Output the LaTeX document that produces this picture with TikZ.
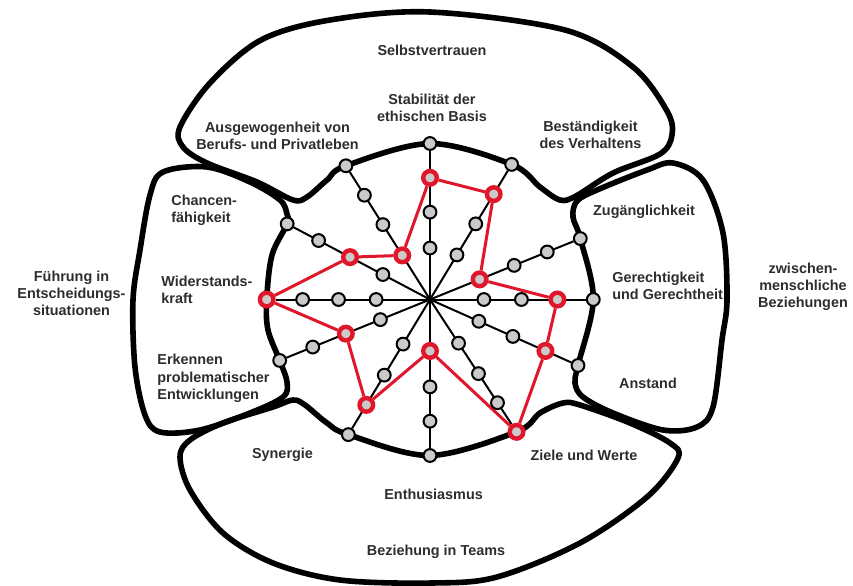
\documentclass[tikz,border=0pt]{standalone}
\usepackage{fontspec}
\setmainfont{Liberation Sans}
\usetikzlibrary{calc,backgrounds}

\definecolor{chartred}{RGB}{224,22,42}
\definecolor{dotgray}{RGB}{202,202,202}
\definecolor{labelgray}{RGB}{45,45,45}

\begin{document}
\begin{tikzpicture}[x=0.5pt,y=-0.5pt,            % pixel grid, y down
                    font=\fontsize{7.2}{8.6}\selectfont\bfseries,
                    region/.style={line width=2.8pt,line join=round},
                    spoke/.style={line width=1pt},
                    dot/.style={circle,draw,line width=1pt,fill=dotgray,minimum size=6.4pt,inner sep=0pt},
                    hit/.style={circle,draw=chartred,line width=2.2pt,fill=dotgray,minimum size=6.8pt,inner sep=0pt},
                    profile/.style={chartred,line width=1.5pt,line join=round},
                    lbl/.style={text=labelgray,inner sep=0pt,align=center},
                    lbll/.style={text=labelgray,inner sep=0pt,align=left,anchor=west}
                    ]
\useasboundingbox (0,0) rectangle (853,585);

\coordinate (c) at (430,299.5);

% dots on the twelve axes (angle / red level)
\foreach \a/\r [count=\i] in {90/3,60/3,23/1,0/3,-25/3,-58/4,-90/1,-120/3,-157/2,180/4,151/2,121/1}{
  \foreach \f [count=\k] in {0.33,0.56,0.78,1}{
    \ifnum\k=\r\def\sty{hit}\else\def\sty{dot}\fi
    \node[\sty] (n\i-\k) at ($(c)+({163.3*\f*cos(\a)},{-156*\f*sin(\a)})$) {};
  }
}

\begin{scope}[on background layer]
% Selbstvertrauen
\draw[region] plot[smooth cycle,tension=0.55] coordinates {(n12-4.center) (n1-4.center) (n2-4.center)
   (540,187) (560,200) (576,196) (613,173) (660,154) (672,135) (667,111) (633,67) (565,30)
   (430,12) (330,20) (261,40) (210,83) (180,127) (183,147) (207,163) (257,182)
   (293,200) (307,197) (327,180)};

% Fuehrung
\draw[region] plot[smooth cycle,tension=0.55] coordinates {(163,172) (207,167) (250,182) (280,200)
   (287,214) (n11-4.center) (272,255) (n10-4.center) (268,330) (n9-4.center) (287,382) (283,397)
   (250,413) (200,430) (160,432) (145,415) (135,367) (133,300) (140,250) (150,195)};

% zwischenmenschliche Beziehungen
\draw[region] plot[smooth cycle,tension=0.55] coordinates {(577,201) (597,190) (647,170) (673,163)
   (703,180) (723,233) (727,300) (722,340) (713,407) (697,427) (663,430) (613,413) (583,397)
   (575,383) (n5-4.center) (n4-4.center) (n3-4.center) (573,217)};

% Beziehung in Teams
\draw[region] plot[smooth cycle,tension=0.55] coordinates {(n8-4.center) (n7-4.center) (n6-4.center)
   (540,413) (563,403) (580,405) (630,423) (670,443) (678,458) (647,497) (580,543) (497,577)
   (432,583) (340,580) (273,563) (223,533) (190,490) (180,457) (190,440) (223,423) (273,407)
   (293,400) (305,405) (327,423)};

% axes
\foreach \i in {1,...,12} \draw[spoke] (c) -- (n\i-4);

% profile
\draw[profile] (n1-3) -- (n2-3) -- (n3-1) -- (n4-3) -- (n5-3) -- (n6-4) -- (n7-1)
   -- (n8-3) -- (n9-2) -- (n10-4) -- (n11-2) -- (n12-1) -- (n1-3);
\end{scope}

% labels
\node[lbl] (selbst) at (432,50) {Selbstvertrauen};
\node[lbl] (stab) at (432,107.5) {Stabilität der\\ethischen Basis};
\node[lbl] (ausg) at (277.5,136) {Ausgewogenheit von\\Berufs- und Privatleben};
\node[lbl] (best) at (590.5,134.5) {Beständigkeit\\des Verhaltens};

\node[lbll] (chanc) at (171,210) {Chancen-\\fähigkeit};
\node[lbll] (wider) at (161,289.5) {Widerstands-\\kraft};
\node[lbll] (erk) at (157,378.5) {Erkennen\\problematischer\\Entwicklungen};
\node[lbl] (fuehr) at (71.5,293.3) {Führung in\\Entscheidungs-\\situationen};

\node[lbl] (zug) at (644,211.7) {Zugänglichkeit};
\node[lbll] (ger) at (612,285.5) {Gerechtigkeit\\und Gerechtheit};
\node[lbl] (anst) at (648,383.3) {Anstand};
\node[lbl] (zwisch) at (803,286.7) {zwischen-\\menschliche\\Beziehungen};

\node[lbl] (syn) at (282.5,455) {Synergie};
\node[lbl] (enth) at (433.6,494) {Enthusiasmus};
\node[lbl] (ziele) at (584,455) {Ziele und Werte};
\node[lbl] (bez) at (436,551.7) {Beziehung in Teams};

\end{tikzpicture}
\end{document}
